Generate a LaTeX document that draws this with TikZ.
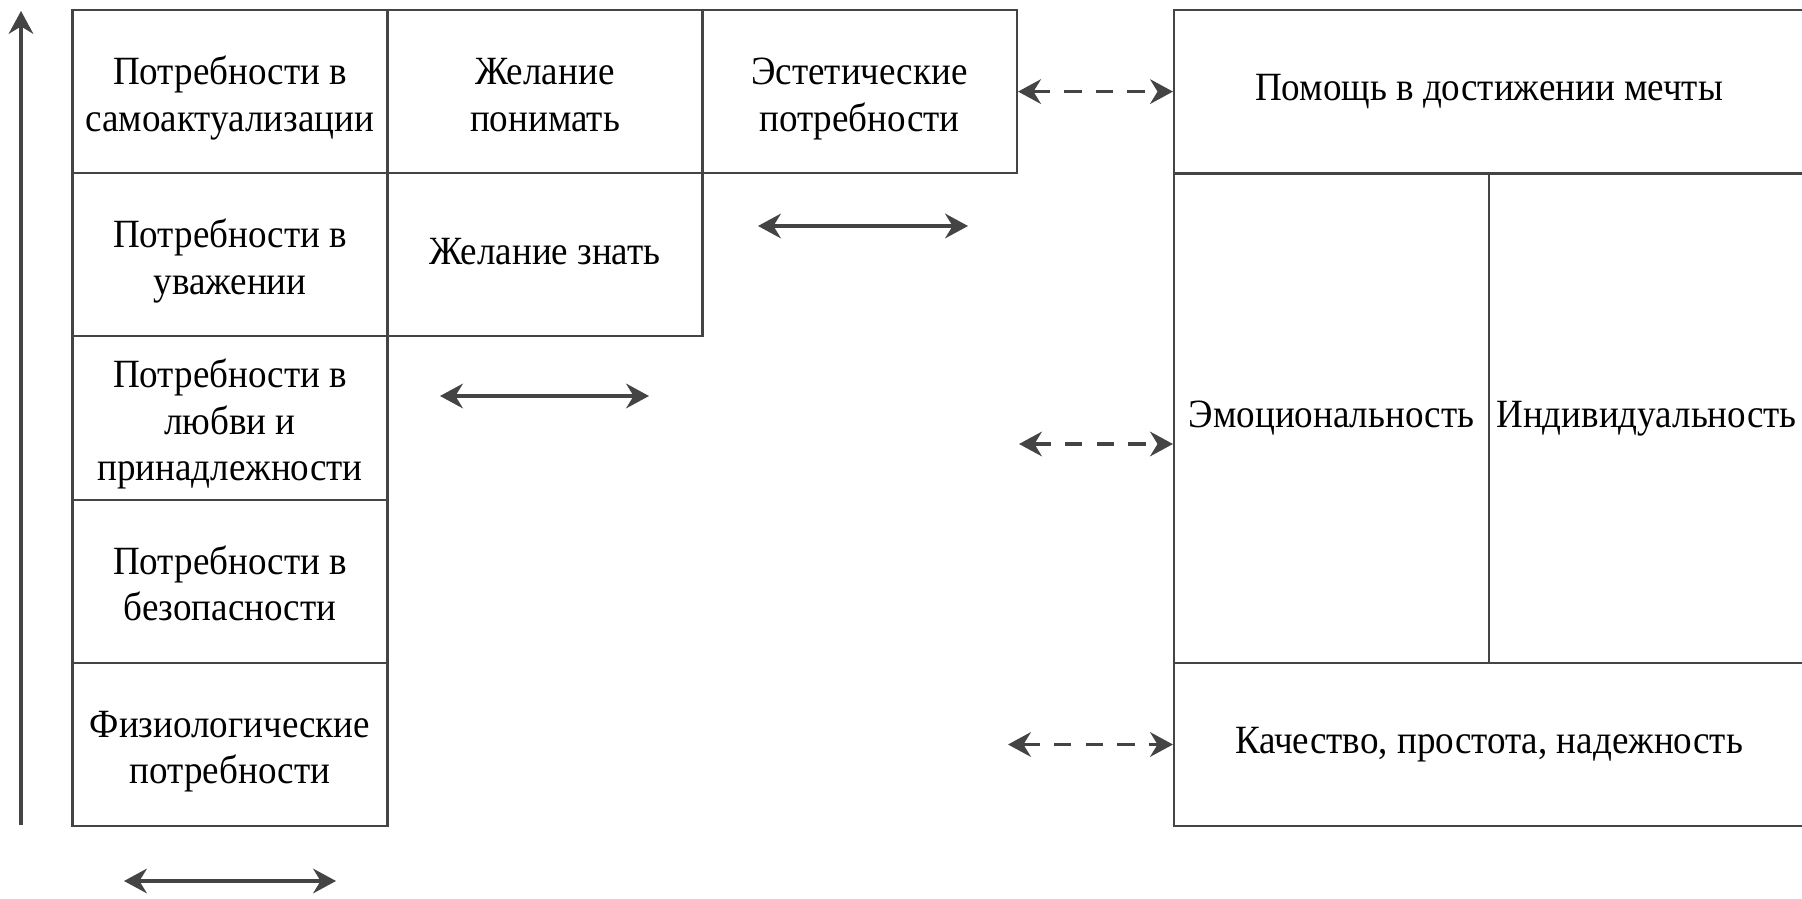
\documentclass[tikz,border=0pt]{standalone}
\usepackage{fontspec}
\setmainfont[FakeStretch=0.925]{Liberation Serif}
\usetikzlibrary{arrows.meta}
\definecolor{linegray}{HTML}{444444}
\newcommand{\hstrut}{\rule{0pt}{13.2pt}}

\begin{document}
\begin{tikzpicture}[
  cell/.style={draw=linegray, line width=0.6pt, minimum width=3.15cm,
    minimum height=1.632cm, align=center, inner sep=0pt,
    font=\fontsize{11.4}{13.2}\selectfont,
    execute at begin node=\strut, execute at end node=\strut},
  twoway/.style={{Stealth[length=6.5pt,width=7pt]}-{Stealth[length=6.5pt,width=7pt]},
    line width=1pt, draw=linegray},
  dashway/.style={twoway, dash pattern=on 5pt off 4pt}
]
\useasboundingbox (0,0) rectangle (18.02,8.98);

% pyramid of needs
\node[cell] (self) at (2.30,8.064) {\hstrut Потребности в\\самоактуализации};
\node[cell] (understand) at (5.45,8.064) {\hstrut Желание\\понимать};
\node[cell] (aesth) at (8.595,8.064) {\hstrut Эстетические\\потребности};
\node[cell] (esteem) at (2.30,6.432) {\hstrut Потребности в\\уважении};
\node[cell] (know) at (5.45,6.432) {Желание знать};
\node[cell] (love) at (2.30,4.80) {\hstrut Потребности в\\любви и\\принадлежности};
\node[cell] (safety) at (2.30,3.168) {\hstrut Потребности в\\безопасности};
\node[cell] (physio) at (2.30,1.536) {\hstrut Физиологические\\потребности};

% product side
\node[cell, minimum width=6.30cm] (dream) at (14.89,8.064) {Помощь в достижении мечты};
\node[cell, minimum height=4.896cm] (emo) at (13.315,4.795) {Эмоциональность};
\node[cell, minimum height=4.896cm] (indiv) at (16.465,4.795) {Индивидуальность};
\node[cell, minimum width=6.30cm] (qual) at (14.89,1.535) {Качество, простота, надежность};

% free ends
\coordinate (axisbot) at (0.21,0.73);
\coordinate (axistop) at (0.21,8.87);
\coordinate (wa) at (7.58,6.72);
\coordinate (wb) at (9.68,6.72);
\coordinate (ka) at (4.40,5.02);
\coordinate (kb) at (6.49,5.02);
\coordinate (pa) at (1.24,0.17);
\coordinate (pb) at (3.36,0.17);
\coordinate (midleft) at (10.19,4.54);
\coordinate (lowleft) at (10.08,1.535);

\draw[-{Stealth[length=6.5pt,width=7pt]}, line width=1pt, draw=linegray] (axisbot) -- (axistop);
\draw[twoway] (wa) -- (wb);
\draw[twoway] (ka) -- (kb);
\draw[twoway] (pa) -- (pb);

\draw[dashway] (aesth.east) -- (dream.west);
\draw[dashway] (midleft) -- (midleft -| emo.west);
\draw[dashway] (lowleft) -- (qual.west);
\end{tikzpicture}
\end{document}
